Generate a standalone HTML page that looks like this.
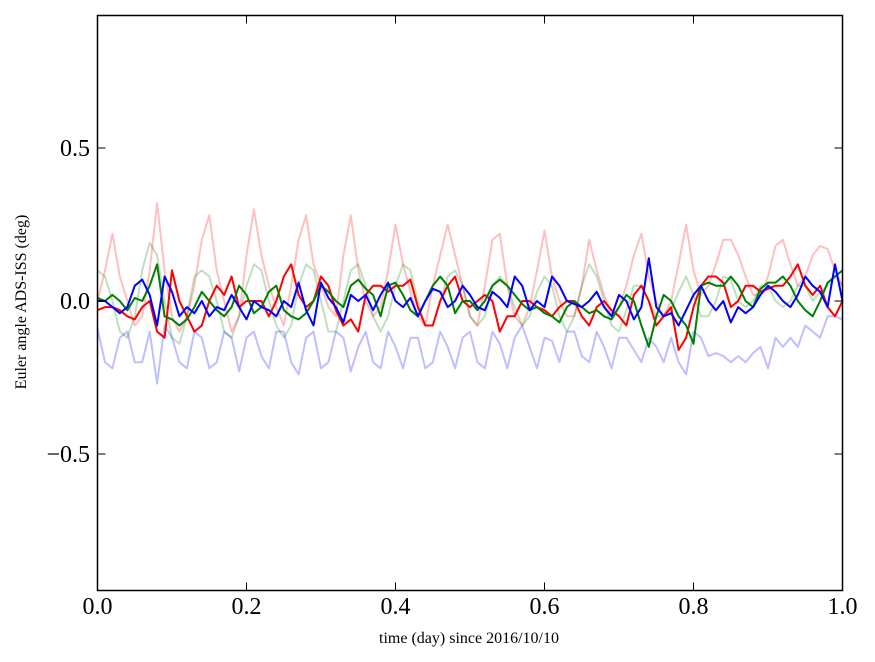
<!DOCTYPE html>
<html><head><meta charset="utf-8"><style>
html,body{margin:0;padding:0;background:#fff;}
svg{display:block;font-family:"Liberation Serif",serif;}
</style></head><body>
<svg id="chart" width="875" height="662">
<rect x="0" y="0" width="875" height="662" fill="#fff"/>
<g id="series"></g>
<rect x="97.5" y="15.5" width="745" height="575" fill="none" stroke="#000" stroke-width="1.5"/>
<g id="ticks"></g>
<text x="469" y="643" font-size="16" text-anchor="middle">time (day) since 2016/10/10</text>
<text transform="translate(26,302) rotate(-90)" font-size="16" text-anchor="middle">Euler angle ADS-ISS (deg)</text>
</svg>
<script>
const xTicks=[0,0.2,0.4,0.6,0.8,1.0];
const xTickLabels=["0.0","0.2","0.4","0.6","0.8","1.0"];
const yTicks=[0.5,0,-0.5];
const yTickLabels=["0.5","0.0","\u22120.5"];
const timeStep=0.01;
const lightBlue=[-0.09,-0.2,-0.22,-0.12,-0.1,-0.2,-0.2,-0.1,-0.27,-0.08,-0.12,-0.2,-0.22,-0.1,-0.12,-0.22,-0.2,-0.1,-0.12,-0.23,-0.12,-0.1,-0.18,-0.22,-0.1,-0.1,-0.2,-0.24,-0.12,-0.1,-0.22,-0.2,-0.1,-0.12,-0.23,-0.15,-0.1,-0.2,-0.22,-0.1,-0.15,-0.22,-0.12,-0.12,-0.22,-0.2,-0.1,-0.15,-0.22,-0.12,-0.1,-0.2,-0.22,-0.1,-0.14,-0.22,-0.12,-0.08,-0.15,-0.22,-0.12,-0.13,-0.2,-0.1,-0.1,-0.18,-0.2,-0.1,-0.15,-0.22,-0.12,-0.12,-0.16,-0.2,-0.12,-0.15,-0.2,-0.12,-0.2,-0.24,-0.1,-0.12,-0.18,-0.17,-0.18,-0.2,-0.18,-0.2,-0.17,-0.15,-0.22,-0.12,-0.15,-0.12,-0.15,-0.08,-0.1,-0.12,-0.05,-0.05,-0.06];
const lightGreen=[0.1,0.08,0.0,-0.1,-0.12,-0.05,0.1,0.19,0.15,0.0,-0.12,-0.14,-0.05,0.08,0.1,0.08,0.0,-0.1,-0.12,-0.05,0.05,0.12,0.1,0.0,-0.08,-0.12,-0.08,0.05,0.12,0.1,0.0,-0.1,-0.1,0.0,0.1,0.12,0.05,-0.05,-0.1,-0.05,0.05,0.12,0.1,0.0,-0.08,-0.08,0.0,0.08,0.1,0.05,-0.05,-0.08,-0.05,0.05,0.08,0.05,-0.02,-0.08,-0.05,0.03,0.08,0.05,-0.05,-0.1,-0.05,0.05,0.12,0.08,0.0,-0.08,-0.1,-0.03,0.05,0.05,0.0,-0.05,-0.05,-0.03,0.03,0.08,0.02,-0.05,-0.05,0.0,0.08,0.07,0.0,-0.02,0.0,0.05,0.05,0.0,-0.02,0.0,0.05,0.05,0.0,0.03,0.05,0.08,0.05];
const lightRed=[0.0,0.1,0.22,0.08,0.0,-0.08,-0.05,0.1,0.32,0.1,-0.05,-0.1,-0.05,0.05,0.2,0.28,0.1,0.0,-0.1,-0.05,0.15,0.3,0.15,0.05,-0.02,-0.08,0.05,0.2,0.28,0.12,0.05,-0.02,-0.05,0.15,0.28,0.1,0.0,-0.05,-0.02,0.1,0.25,0.12,0.03,-0.05,-0.08,0.05,0.15,0.25,0.15,0.05,-0.05,-0.08,0.05,0.2,0.22,0.05,-0.05,-0.08,-0.02,0.1,0.23,0.08,0.0,-0.05,-0.05,0.05,0.2,0.1,0.02,-0.05,-0.02,0.05,0.15,0.22,0.08,0.0,-0.05,0.0,0.12,0.25,0.1,0.02,0.05,0.12,0.2,0.2,0.15,0.08,0.02,0.02,0.08,0.18,0.2,0.12,0.05,0.08,0.15,0.18,0.17,0.1,0.05];
const darkRed=[-0.03,-0.02,-0.02,-0.03,-0.05,-0.06,-0.02,0.0,-0.1,-0.12,0.1,0.0,-0.05,-0.1,-0.08,0.0,0.05,0.02,0.08,-0.02,0.0,0.0,0.0,-0.05,0.0,0.08,0.12,0.02,-0.02,0.0,0.08,0.05,-0.03,-0.08,-0.06,-0.1,0.02,0.05,0.05,0.03,0.05,0.05,0.07,-0.02,-0.08,-0.08,0.0,0.05,0.08,0.0,-0.02,0.0,0.02,0.0,-0.1,-0.05,-0.05,0.0,0.0,-0.02,-0.03,-0.05,-0.02,0.0,0.0,-0.05,-0.08,-0.02,0.0,-0.03,-0.05,-0.08,0.02,0.05,0.0,-0.08,-0.05,-0.02,-0.16,-0.12,-0.02,0.05,0.08,0.08,0.06,-0.02,0.0,0.05,0.05,0.03,0.04,0.05,0.05,0.08,0.12,0.05,0.02,0.05,-0.02,-0.05,0.0];
const darkGreen=[0.01,0.0,0.02,0.0,-0.03,0.01,0.0,0.05,0.12,-0.05,-0.06,-0.08,-0.06,-0.02,0.03,0.0,-0.03,-0.05,-0.02,0.05,0.02,-0.04,-0.02,0.03,0.05,-0.03,-0.05,-0.06,-0.04,0.0,0.05,0.03,0.0,-0.02,0.05,0.07,0.04,0.02,-0.05,0.05,0.06,0.02,-0.03,-0.05,0.0,0.05,0.08,0.05,-0.04,0.0,0.0,-0.03,0.0,0.05,0.07,0.05,0.02,-0.01,-0.03,-0.02,-0.04,-0.05,-0.07,-0.02,0.0,-0.02,-0.04,-0.03,-0.05,-0.06,-0.02,0.02,0.0,-0.08,-0.15,-0.05,0.02,0.0,-0.05,-0.08,-0.14,0.05,0.06,0.05,0.05,0.08,0.05,0.0,-0.02,0.04,0.06,0.06,0.08,0.05,0.0,-0.03,-0.05,0.0,0.06,0.08,0.1];
const darkBlue=[0.0,0.0,-0.02,-0.04,-0.02,0.05,0.07,0.02,-0.08,0.08,0.03,-0.05,-0.02,-0.04,0.0,-0.05,-0.02,-0.03,0.02,-0.02,-0.06,0.0,-0.02,-0.03,-0.05,0.0,-0.02,0.06,-0.03,-0.08,0.06,0.01,-0.02,-0.07,0.02,0.0,0.02,-0.03,0.02,0.06,0.0,-0.02,0.01,-0.05,0.0,0.04,0.03,-0.02,0.0,0.05,0.02,-0.02,-0.03,0.03,0.01,-0.02,0.08,0.05,-0.03,0.0,-0.02,0.08,0.05,0.0,-0.01,-0.02,0.0,0.03,-0.02,-0.05,0.02,0.0,-0.06,-0.02,0.14,-0.02,-0.05,-0.04,-0.08,-0.03,0.02,0.05,0.0,-0.03,0.0,-0.07,-0.02,-0.04,-0.02,0.02,0.05,0.03,0.0,-0.02,0.02,0.08,0.05,0.03,-0.02,0.12,0.0];

const X0=97.5,X1=842.5,Y0=301,YS=306;
function xs(v){return X0+(X1-X0)*v;}
function ys(v){return Y0-YS*v;}
const NS="http://www.w3.org/2000/svg";
const g=document.getElementById('series');
const defs=[
 [lightRed,'#ff0000',0.25,'line-light-red'],
 [lightGreen,'#008000',0.25,'line-light-green'],
 [lightBlue,'#0000ff',0.25,'line-light-blue'],
 [darkRed,'#ff0000',1,'line-red'],
 [darkGreen,'#008000',1,'line-green'],
 [darkBlue,'#0000ff',1,'line-blue']
];
defs.forEach(d=>{
 const vals=d[0];
 const pts=vals.map((v,i)=>xs(Math.min(1,i*timeStep)).toFixed(1)+','+ys(v).toFixed(1)).join(' ');
 const p=document.createElementNS(NS,'polyline');
 p.setAttribute('points',pts);
 p.setAttribute('fill','none');
 p.setAttribute('stroke',d[1]);
 p.setAttribute('stroke-opacity',d[2]);
 p.setAttribute('stroke-width','2');
 p.setAttribute('stroke-linejoin','round');
 
 
 g.appendChild(p);
});
const tg=document.getElementById('ticks');
function line(x1,y1,x2,y2){const l=document.createElementNS(NS,'line');l.setAttribute('x1',x1);l.setAttribute('y1',y1);l.setAttribute('x2',x2);l.setAttribute('y2',y2);l.setAttribute('stroke','#000');l.setAttribute('stroke-width','1');tg.appendChild(l);return l;}
function txt(x,y,s,a){const t=document.createElementNS(NS,'text');t.setAttribute('x',x);t.setAttribute('y',y);t.setAttribute('font-size','24');t.setAttribute('text-anchor',a);t.textContent=s;tg.appendChild(t);return t;}
xTicks.forEach((v,i)=>{
 const x=xs(v);
 line(x,590.5,x,582.5);line(x,15.5,x,23.5);
 const t=txt(x,614,xTickLabels[i],'middle');
 
 
});
yTicks.forEach((v,i)=>{
 const y=ys(v);
 line(97.5,y,105.5,y);line(842.5,y,834.5,y);
 const t=txt(90,y+8,yTickLabels[i],'end');
 
 
});
</script>
</body></html>
